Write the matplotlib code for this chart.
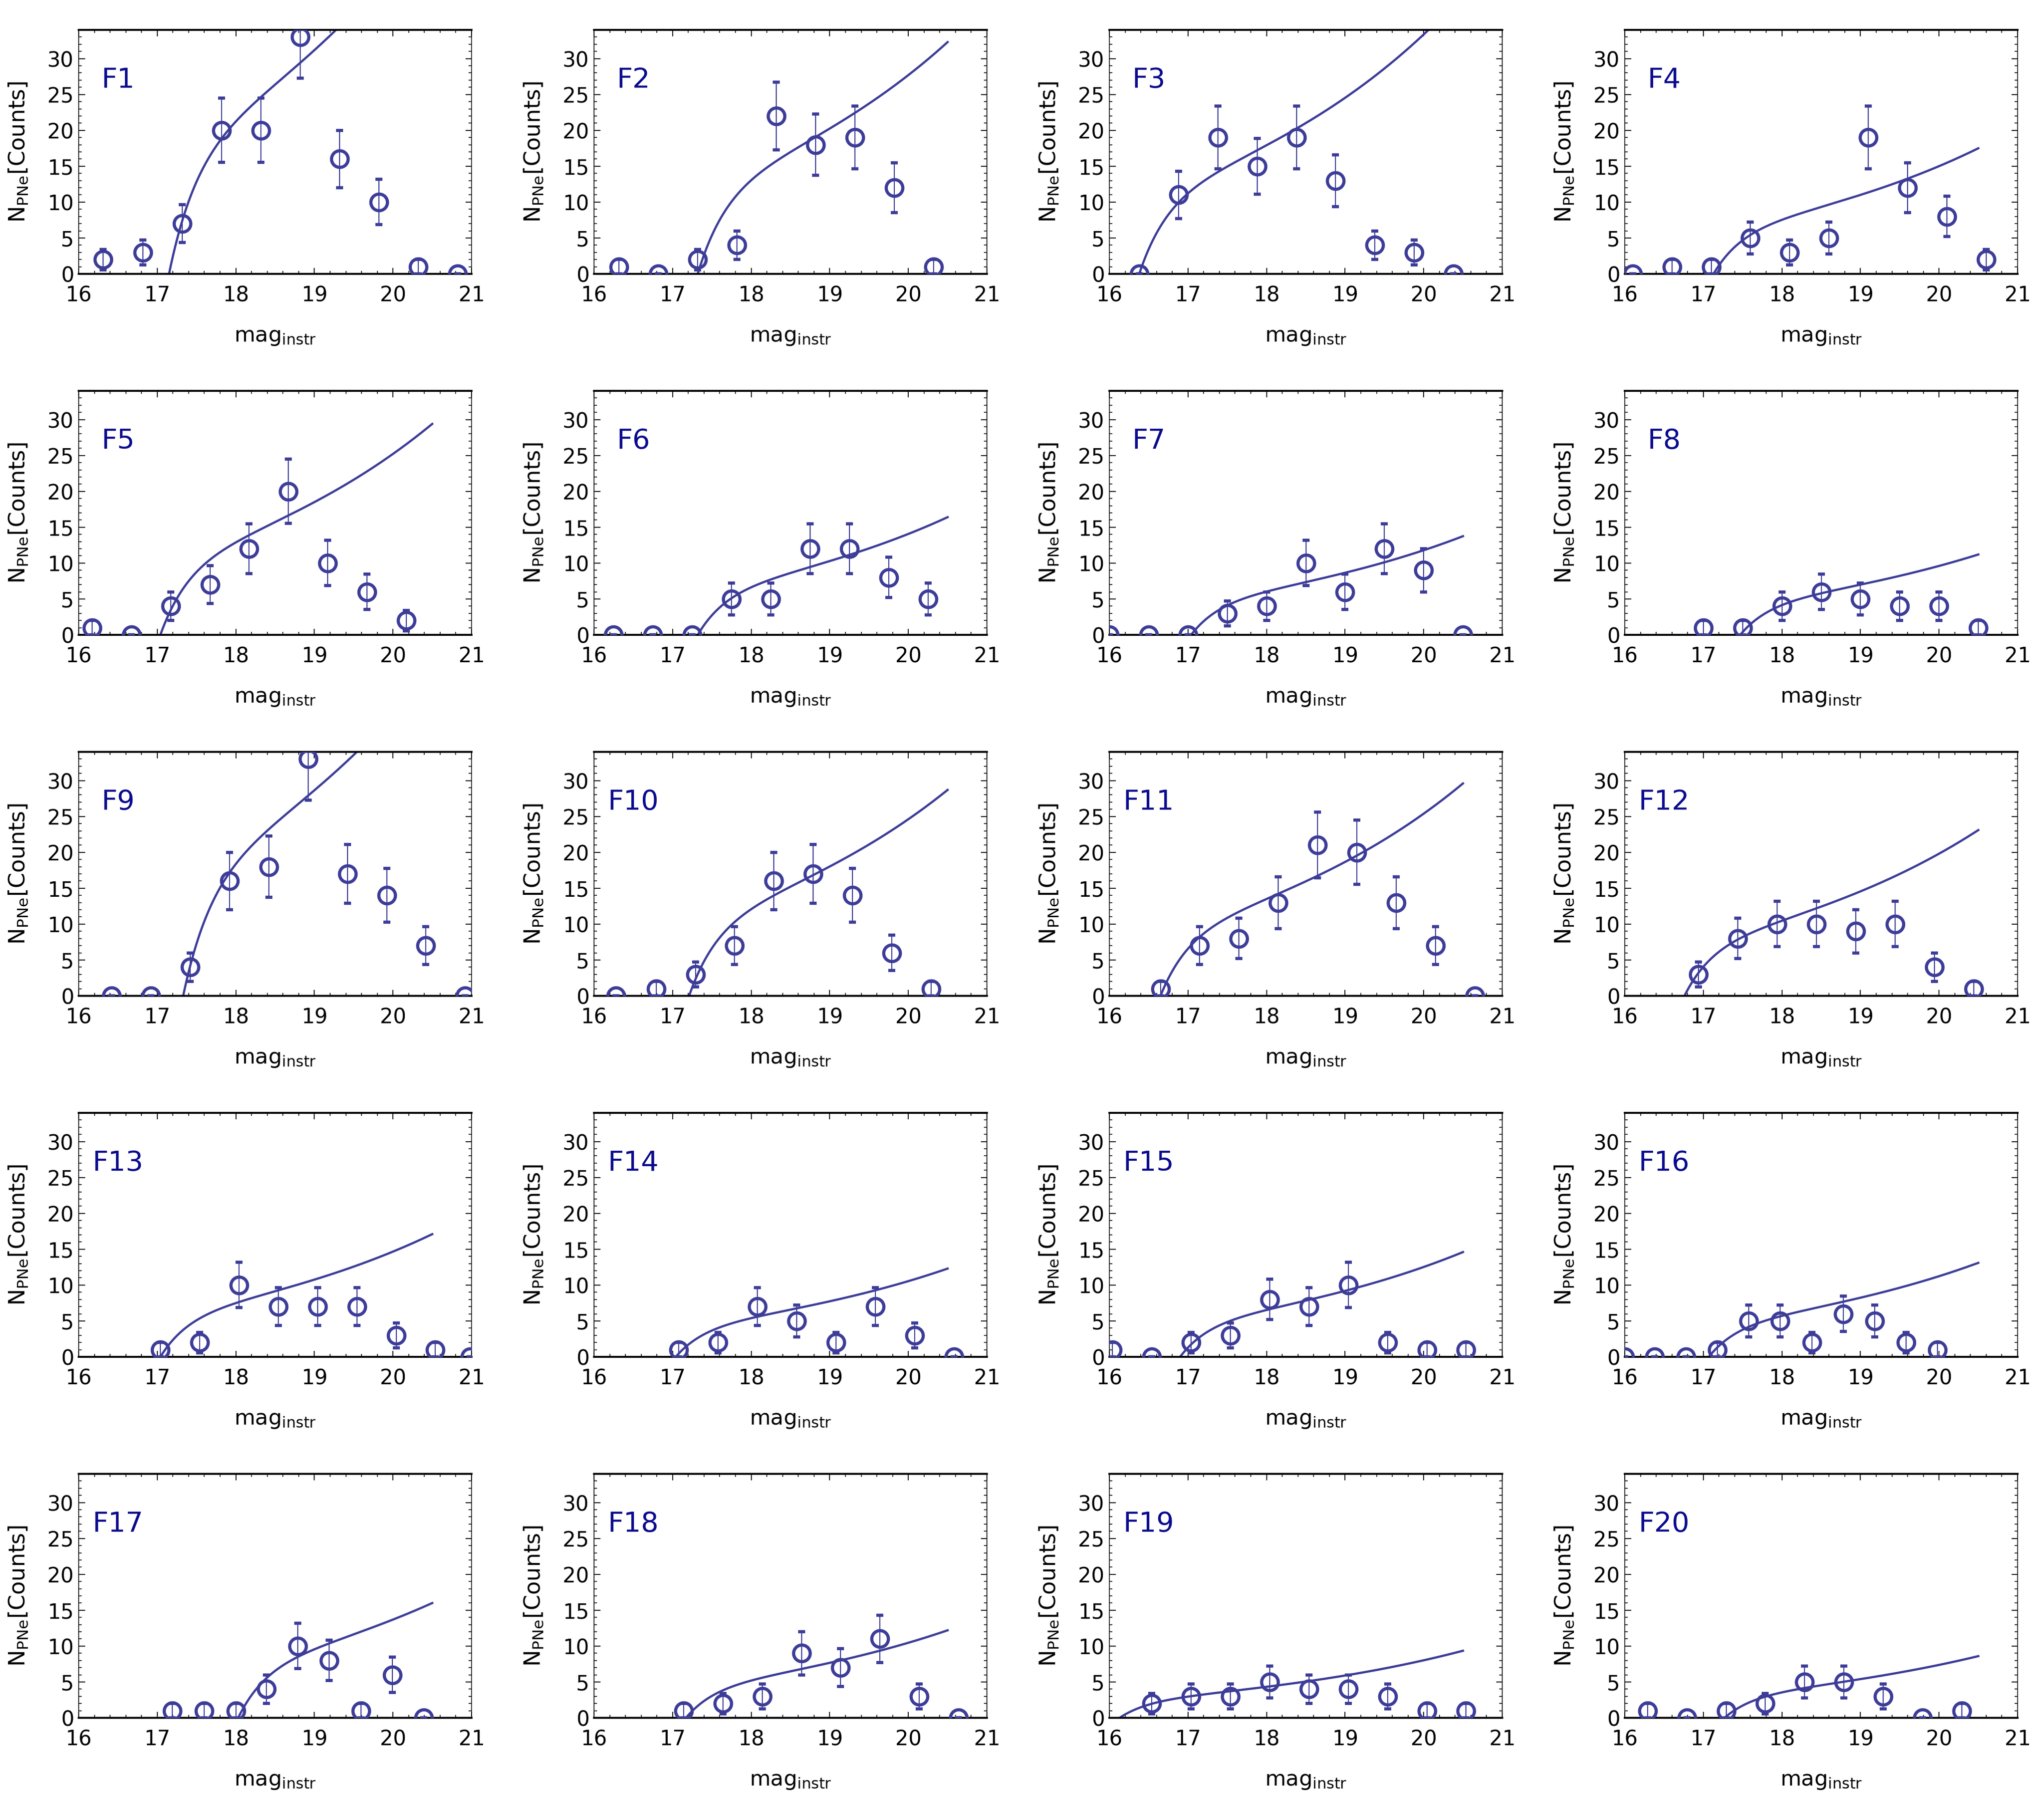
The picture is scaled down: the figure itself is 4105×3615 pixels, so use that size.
import numpy as np
import matplotlib
matplotlib.use("Agg")
import matplotlib.pyplot as plt
from matplotlib.ticker import MultipleLocator

# Binned PN counts per field (bin centre magnitude, number of PNe)
f1_mag = [16.31, 16.82, 17.32, 17.82, 18.32, 18.82, 19.32, 19.82, 20.32, 20.82]
f1_n = [2, 3, 7, 20, 20, 33, 16, 10, 1, 0]
f2_mag = [16.32, 16.82, 17.32, 17.82, 18.32, 18.82, 19.32, 19.82, 20.32]
f2_n = [1, 0, 2, 4, 22, 18, 19, 12, 1]
f3_mag = [16.38, 16.88, 17.38, 17.88, 18.38, 18.88, 19.38, 19.88, 20.38]
f3_n = [0, 11, 19, 15, 19, 13, 4, 3, 0]
f4_mag = [16.1, 16.6, 17.1, 17.6, 18.1, 18.6, 19.1, 19.6, 20.1, 20.6]
f4_n = [0, 1, 1, 5, 3, 5, 19, 12, 8, 2]
f5_mag = [16.17, 16.67, 17.17, 17.67, 18.17, 18.67, 19.17, 19.67, 20.17]
f5_n = [1, 0, 4, 7, 12, 20, 10, 6, 2]
f6_mag = [16.25, 16.75, 17.25, 17.75, 18.25, 18.75, 19.25, 19.75, 20.25]
f6_n = [0, 0, 0, 5, 5, 12, 12, 8, 5]
f7_mag = [16.0, 16.5, 17.0, 17.5, 18.0, 18.5, 19.0, 19.5, 20.0, 20.5]
f7_n = [0, 0, 0, 3, 4, 10, 6, 12, 9, 0]
f8_mag = [17.0, 17.5, 18.0, 18.5, 19.0, 19.5, 20.0, 20.5]
f8_n = [1, 1, 4, 6, 5, 4, 4, 1]
f9_mag = [16.42, 16.92, 17.42, 17.92, 18.42, 18.92, 19.42, 19.92, 20.42, 20.92]
f9_n = [0, 0, 4, 16, 18, 33, 17, 14, 7, 0]
f10_mag = [16.28, 16.79, 17.29, 17.79, 18.29, 18.79, 19.29, 19.79, 20.29]
f10_n = [0, 1, 3, 7, 16, 17, 14, 6, 1]
f11_mag = [16.65, 17.15, 17.65, 18.15, 18.65, 19.15, 19.65, 20.15, 20.65]
f11_n = [1, 7, 8, 13, 21, 20, 13, 7, 0]
f12_mag = [16.94, 17.44, 17.94, 18.44, 18.94, 19.44, 19.94, 20.44]
f12_n = [3, 8, 10, 10, 9, 10, 4, 1]
f13_mag = [17.04, 17.54, 18.04, 18.54, 19.04, 19.54, 20.04, 20.54, 20.98]
f13_n = [1, 2, 10, 7, 7, 7, 3, 1, 0]
f14_mag = [17.08, 17.58, 18.08, 18.58, 19.08, 19.58, 20.08, 20.58]
f14_n = [1, 2, 7, 5, 2, 7, 3, 0]
f15_mag = [16.04, 16.54, 17.04, 17.54, 18.04, 18.54, 19.04, 19.54, 20.04, 20.54]
f15_n = [1, 0, 2, 3, 8, 7, 10, 2, 1, 1]
f16_mag = [16.0, 16.38, 16.78, 17.18, 17.58, 17.98, 18.38, 18.78, 19.18, 19.58, 19.98]
f16_n = [0, 0, 0, 1, 5, 5, 2, 6, 5, 2, 1]
f17_mag = [17.19, 17.6, 18.0, 18.39, 18.79, 19.19, 19.59, 19.99, 20.39]
f17_n = [1, 1, 1, 4, 10, 8, 1, 6, 0]
f18_mag = [17.14, 17.64, 18.14, 18.64, 19.14, 19.64, 20.14, 20.64]
f18_n = [1, 2, 3, 9, 7, 11, 3, 0]
f19_mag = [16.54, 17.04, 17.54, 18.04, 18.54, 19.04, 19.54, 20.04, 20.54]
f19_n = [2, 3, 3, 5, 4, 4, 3, 1, 1]
f20_mag = [16.29, 16.79, 17.29, 17.79, 18.29, 18.79, 19.29, 19.79, 20.29]
f20_n = [1, 0, 1, 2, 5, 5, 3, 0, 1]

# PNLF fit per field: bright cutoff m* and fitted N at the faint end (m = 20.5)
fit_cutoff = [17.15, 17.32, 16.38, 17.13, 17.04, 17.32, 17.04, 17.47, 17.33, 17.21,
              16.65, 16.76, 17.04, 17.04, 16.90, 17.07, 18.03, 17.17, 16.13, 17.27]
fit_end = [49.6, 32.3, 38.9, 17.5, 29.4, 16.4, 13.75, 11.2, 45.7, 28.7,
           29.6, 23.1, 17.1, 12.3, 14.6, 13.1, 16.0, 12.2, 9.35, 8.6]
FIT_FAINT = 20.5

field_names = ["F%d" % i for i in range(1, 21)]

mags = [f1_mag, f2_mag, f3_mag, f4_mag, f5_mag, f6_mag, f7_mag, f8_mag, f9_mag, f10_mag,
        f11_mag, f12_mag, f13_mag, f14_mag, f15_mag, f16_mag, f17_mag, f18_mag, f19_mag, f20_mag]
counts = [f1_n, f2_n, f3_n, f4_n, f5_n, f6_n, f7_n, f8_n, f9_n, f10_n,
          f11_n, f12_n, f13_n, f14_n, f15_n, f16_n, f17_n, f18_n, f19_n, f20_n]

PT_COLOR = "#3d3d99"
LABEL_COLOR = "#0b0b8f"

W, H = 4105, 3615


# Ciardullo-style PNLF shape, scaled so it passes through fit_end at FIT_FAINT
def pnlf(m, m_star, n_end):
    shape = lambda x: np.exp(0.307 * x) * (1.0 - np.exp(-3.0 * x))
    return n_end * shape(m - m_star) / shape(FIT_FAINT - m_star)


def style_axes(ax):
    ax.set_xlim(16, 21)
    ax.set_ylim(0, 34)
    ax.xaxis.set_major_locator(MultipleLocator(1))
    ax.xaxis.set_minor_locator(MultipleLocator(0.2))
    ax.yaxis.set_major_locator(MultipleLocator(5))
    ax.yaxis.set_minor_locator(MultipleLocator(1))
    ax.tick_params(which="both", direction="in", top=True, right=True, colors="black")
    ax.tick_params(which="major", length=9, width=1.3, labelsize=30)
    ax.tick_params(which="minor", length=4.5, width=1.1)
    ax.tick_params(axis="x", which="major", pad=16)
    ax.tick_params(axis="y", which="major", pad=7)
    for side in ("top", "bottom"):
        ax.spines[side].set_linewidth(2.8)
    for side in ("left", "right"):
        ax.spines[side].set_linewidth(1.1)


def draw_panel(ax, name, mag, n, m_star, n_end):
    mag = np.asarray(mag, dtype=float)
    n = np.asarray(n, dtype=float)

    mm = np.linspace(m_star, FIT_FAINT, 400)
    ax.plot(mm, pnlf(mm, m_star, n_end), color=PT_COLOR, lw=3.2, zorder=2)

    ax.errorbar(mag, n, yerr=np.sqrt(n), fmt="o", color=PT_COLOR, mfc="none",
                mec=PT_COLOR, ms=24, mew=4.6, elinewidth=1.5, capsize=5,
                capthick=1.5, zorder=3)

    ax.text(16.5, 27, name, color=LABEL_COLOR, fontsize=40, ha="center", va="center")

    ax.set_xlabel(r"mag$_{\mathrm{instr}}$", fontsize=31)
    ax.set_ylabel(r"N$_{\mathrm{PNe}}$[Counts]", fontsize=32)
    ax.xaxis.set_label_coords(0.5, -0.215)
    ax.yaxis.set_label_coords(-0.125, 0.5)
    style_axes(ax)


def main():
    fig = plt.figure(figsize=(W / 100, H / 100), dpi=100)

    ax_w, ax_h = 789, 490
    lefts = [158, 1193, 2228, 3263]
    tops = [60, 785, 1510, 2235, 2960]

    for i, name in enumerate(field_names):
        row, col = divmod(i, 4)
        x0 = lefts[col] / W
        y0 = 1 - (tops[row] + ax_h) / H
        ax = fig.add_axes([x0, y0, ax_w / W, ax_h / H])
        draw_panel(ax, name, mags[i], counts[i], fit_cutoff[i], fit_end[i])

    fig.savefig("out.png", dpi=100)
    plt.close(fig)


if __name__ == "__main__":
    main()
